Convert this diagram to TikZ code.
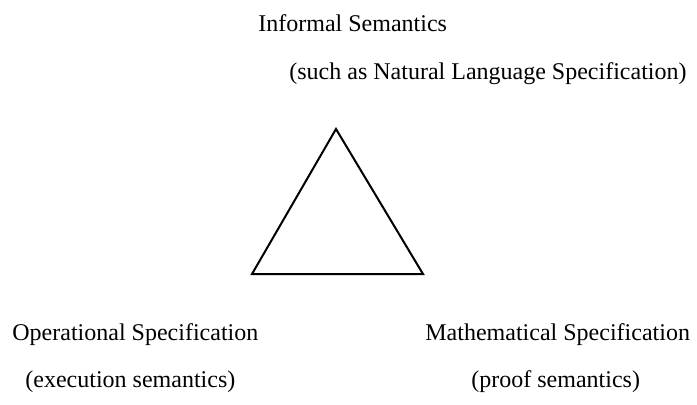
\documentclass[tikz,border=0pt]{standalone}
\usepackage{fontspec}
\setmainfont{Liberation Serif}
\begin{document}
\begin{tikzpicture}[x=0.5pt,y=-0.5pt,
  lbl/.style={anchor=base west,inner sep=0pt,font=\fontsize{12}{14}\selectfont},
  tri/.style={draw=black,line width=1pt,line join=miter}]
\useasboundingbox (0,0) rectangle (697,404);
\node[lbl] (inf) at (258,31) {Informal Semantics};
\node[lbl] (nat) at (289,79) {(such as Natural Language Specification)};
\node[lbl] (op) at (12,340) {Operational Specification};
\node[lbl] (ex) at (25,387) {(execution semantics)};
\node[lbl] (ma) at (425,340) {Mathematical Specification};
\node[lbl] (pr) at (471,387) {(proof semantics)};
\coordinate (t) at (336,129);
\coordinate (l) at (252,274);
\coordinate (r) at (423,274);
\draw[tri] (t) -- (l) -- (r) -- cycle;
\end{tikzpicture}
\end{document}
